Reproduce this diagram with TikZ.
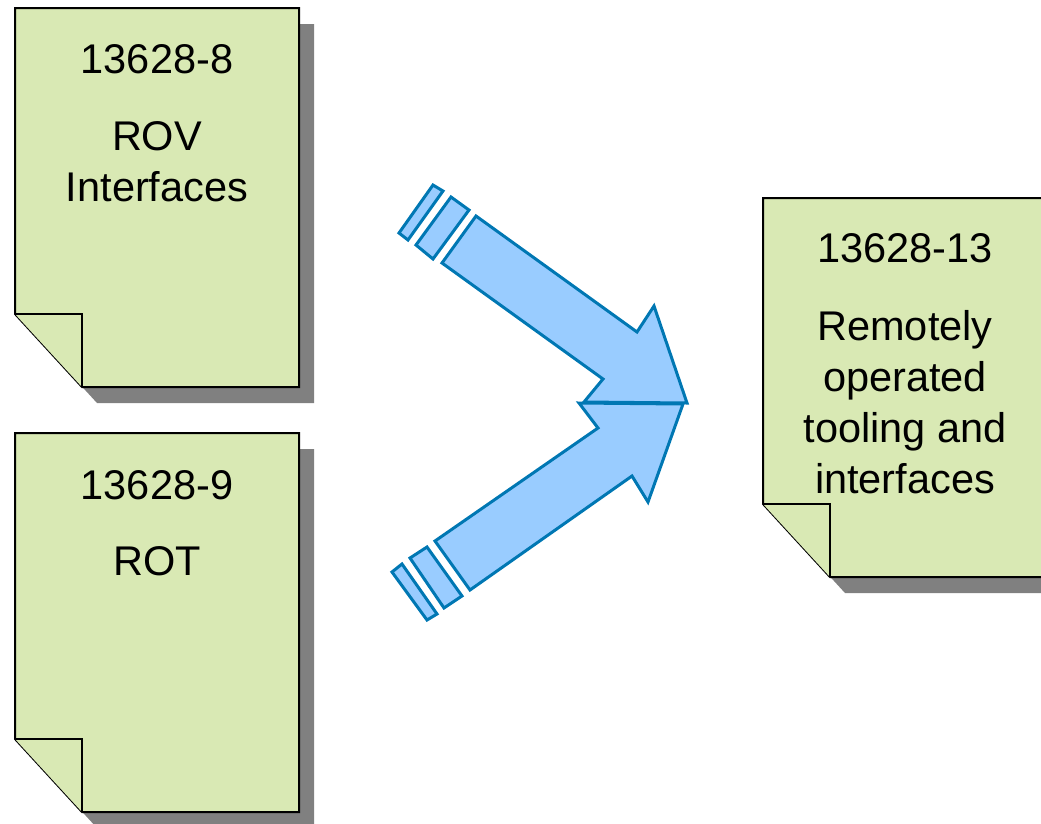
\documentclass[tikz,border=0pt]{standalone}
\usepackage{fontspec}
\setmainfont{Liberation Sans}
\usepackage{xcolor}

\definecolor{pagegreen}{RGB}{217,233,180}
\definecolor{shadowgray}{RGB}{128,128,128}
\definecolor{arrowfill}{RGB}{153,204,255}
\definecolor{arrowline}{RGB}{0,119,179}

\tikzset{
  docpage/.style={draw=black, line width=2pt, fill=pagegreen, line join=miter},
  docshadow/.style={fill=shadowgray},
  doclabel/.style={anchor=base, align=center, font=\fontsize{41.5}{51}\selectfont},
  bigarrow/.style={draw=arrowline, line width=3pt, fill=arrowfill, line join=miter}
}

% page with folded corner and drop shadow, top left corner at (#1,#2)
\newcommand{\docsheet}[2]{%
  \begin{scope}[shift={(#1,#2)}]
    \fill[docshadow] (15,16) -- (299,16) -- (299,395) -- (82,395) -- (15,322) -- cycle;
    \draw[docpage] (0,0) -- (284,0) -- (284,379) -- (67,379) -- (0,306) -- cycle;
    \draw[docpage] (0,306) -- (67,306) -- (67,379);
  \end{scope}}

\begin{document}
\begin{tikzpicture}[x=1pt, y=-1pt]
  \clip (0,0) rectangle (1041,823);
  \useasboundingbox (0,0) rectangle (1041,823);

  % the three documents
  \docsheet{15}{8}
  \docsheet{15}{433}
  \docsheet{763}{198}

  % base of a text block is its last line
  \node[doclabel] (rovnum) at (157,73) {13628-8};
  \node[doclabel] (rovtext) at (157,201) {ROV\\Interfaces};
  \node[doclabel] (rotnum) at (157,499) {13628-9};
  \node[doclabel] (rottext) at (157,575) {ROT};
  \node[doclabel] (toolnum) at (905,262) {13628-13};
  \node[doclabel] (tooltext) at (905,493) {Remotely\\operated\\tooling and\\interfaces};

  % upper arrow
  \draw[bigarrow] (399,233) -- (433,185) -- (443,191) -- (408,240) -- cycle;
  \draw[bigarrow] (416,245) -- (451,197) -- (469,210) -- (433,259) -- cycle;
  \draw[bigarrow] (476,216) -- (637,332) -- (654,306) -- (687,403) -- (584,402)
    -- (603,379) -- (442,263) -- cycle;

  % lower arrow
  \draw[bigarrow] (392,572) -- (402,564) -- (437,614) -- (427,620) -- cycle;
  \draw[bigarrow] (410,558) -- (427,547) -- (462,596) -- (444,608) -- cycle;
  \draw[bigarrow] (579,403) -- (683,404) -- (648,502) -- (632,476) -- (470,590)
    -- (435,541) -- (598,428) -- cycle;
\end{tikzpicture}
\end{document}
